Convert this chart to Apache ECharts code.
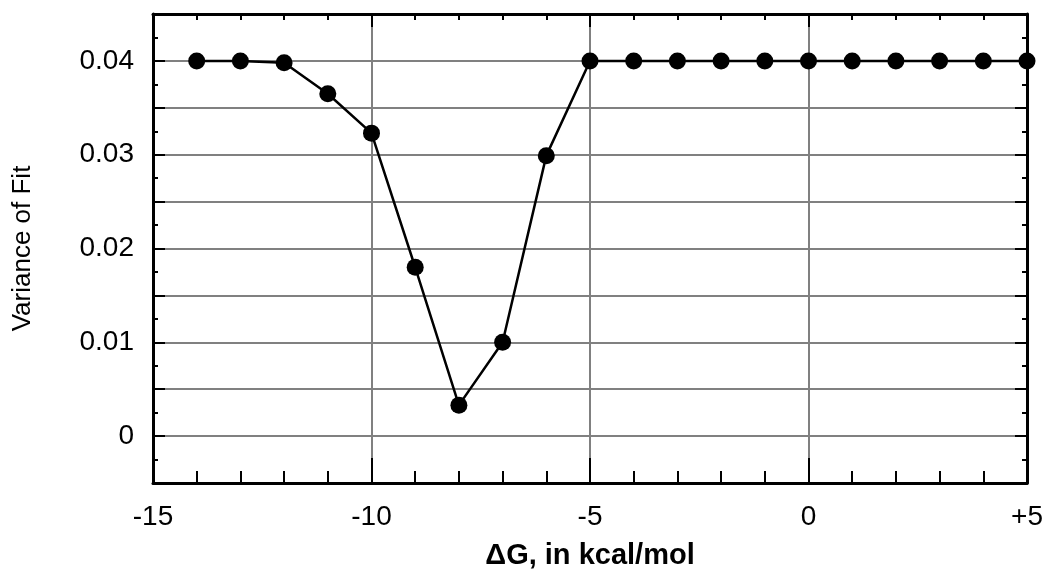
<!DOCTYPE html>
<html>
<head>
<meta charset="utf-8">
<script src="https://cdn.jsdelivr.net/npm/echarts@6/dist/echarts.min.js"></script>
<style>
  html, body { margin: 0; padding: 0; background: #fff; }
  #chart { width: 1055px; height: 569px; }
</style>
</head>
<body>
<div id="chart"></div>
<script>
(function(){

    // ΔG values (kcal/mol) and the variance of fit
    var dG = [-14, -13, -12, -11, -10, -9, -8, -7, -6, -5, -4, -3, -2, -1, 0, 1, 2, 3, 4, 5];
    var variance = [0.0400, 0.0400, 0.0398, 0.0365, 0.0323, 0.0180, 0.0033, 0.0100, 0.0299, 0.0400,
                    0.0400, 0.0400, 0.0400, 0.0400, 0.0400, 0.0400, 0.0400, 0.0400, 0.0400, 0.0400];

    var xLabels = ['-15', '-10', '-5', '0', '+5'];
    var yLabels = ['0', '0.01', '0.02', '0.03', '0.04'];

    var font = '"Liberation Sans", Arial, sans-serif';
    var chart = echarts.init(document.getElementById('chart'));

    var points = [];
    for (var i = 0; i < dG.length; i++) {
        points.push([dG[i], variance[i]]);
    }

    function xFmt(v){
        var idx = Math.round((v + 15) / 5);
        return xLabels[idx] || '';
    }
    function yFmt(v){
        var k = v * 100;
        if (Math.abs(k - Math.round(k)) > 1e-6) return '';
        return yLabels[Math.round(k)] || '';
    }

    var option = {
        animation: false,
        grid: { left: 153, right: 28, top: 14, bottom: 86, outerBoundsMode: 'none' },
        xAxis: [
            {
                type: 'value',
                min: -15, max: 5, interval: 5,
                name: 'ΔG, in kcal/mol',
                nameLocation: 'middle',
                nameGap: 58,
                nameTextStyle: { fontFamily: font, fontSize: 29, fontWeight: 'bold', color: '#000' },
                axisLine: { onZero: false, lineStyle: { color: '#000', width: 3 } },
                axisTick: { inside: true, length: 25, lineStyle: { color: '#000', width: 2 } },
                minorTick: { show: true, splitNumber: 5, length: 12, lineStyle: { color: '#000', width: 2 } },
                axisLabel: { formatter: xFmt, fontFamily: font, fontSize: 28, color: '#000', margin: 20 },
                splitLine: { show: true, lineStyle: { color: '#808080', width: 2 } }
            },
            {
                type: 'value',
                position: 'top',
                min: -15, max: 5, interval: 5,
                axisLine: { onZero: false, lineStyle: { color: '#000', width: 3 } },
                axisTick: { inside: true, length: 13, lineStyle: { color: '#000', width: 2 } },
                minorTick: { show: true, splitNumber: 5, length: 6, lineStyle: { color: '#000', width: 2 } },
                axisLabel: { show: false },
                splitLine: { show: false }
            }
        ],
        yAxis: [
            {
                type: 'value',
                min: -0.005, max: 0.045, interval: 0.005,
                name: 'Variance of Fit',
                nameLocation: 'middle',
                nameGap: 117,
                nameTextStyle: { fontFamily: font, fontSize: 26, color: '#000' },
                axisLine: { onZero: false, lineStyle: { color: '#000', width: 3 } },
                axisTick: { inside: true, length: 12, lineStyle: { color: '#000', width: 2 } },
                minorTick: { show: true, splitNumber: 2, length: 5, lineStyle: { color: '#000', width: 2 } },
                axisLabel: { formatter: yFmt, fontFamily: font, fontSize: 28, color: '#000', margin: 19 },
                splitLine: { show: true, lineStyle: { color: '#808080', width: 2 } }
            },
            {
                type: 'value',
                position: 'right',
                min: -0.005, max: 0.045, interval: 0.005,
                axisLine: { onZero: false, lineStyle: { color: '#000', width: 3 } },
                axisTick: { inside: true, length: 12, lineStyle: { color: '#000', width: 2 } },
                minorTick: { show: true, splitNumber: 2, length: 5, lineStyle: { color: '#000', width: 2 } },
                axisLabel: { show: false },
                splitLine: { show: false }
            }
        ],
        series: [
            {
                type: 'line',
                data: points,
                xAxisIndex: 0,
                yAxisIndex: 0,
                symbol: 'circle',
                symbolSize: 17,
                itemStyle: { color: '#000' },
                lineStyle: { color: '#000', width: 2.5 },
                z: 5
            }
        ]
    };

    chart.setOption(option);

})();
</script>
</body>
</html>
